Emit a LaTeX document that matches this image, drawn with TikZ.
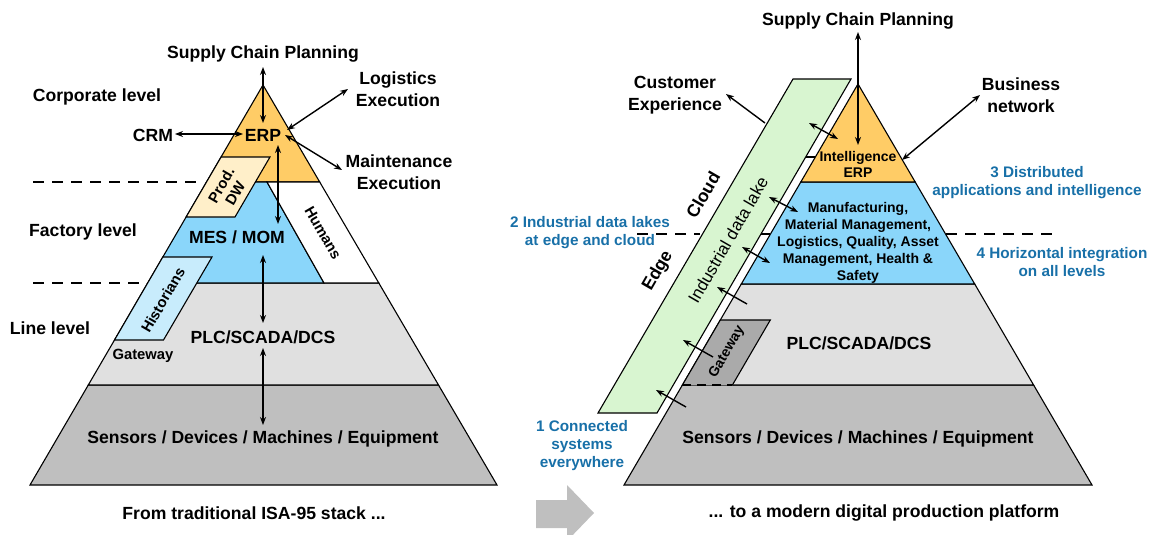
\documentclass[tikz,border=0pt]{standalone}
\usepackage{fontspec}
\setmainfont{Liberation Sans}
\usetikzlibrary{arrows.meta}
\definecolor{ora}{RGB}{255,204,102}
\definecolor{blu}{RGB}{138,214,250}
\definecolor{lgr}{RGB}{224,224,224}
\definecolor{dgr}{RGB}{191,191,191}
\definecolor{grn}{RGB}{216,245,208}
\definecolor{pdw}{RGB}{255,239,201}
\definecolor{his}{RGB}{200,236,252}
\definecolor{gwy}{RGB}{170,170,170}
\definecolor{txb}{RGB}{24,112,168}
\begin{document}
\begin{tikzpicture}[x=1pt,y=-1pt,
  lay/.style={draw=black,line width=1.1pt,line join=miter},
  lbl/.style={font=\fontsize{17.6}{22}\selectfont\bfseries,align=center,inner sep=0pt},
  sml/.style={font=\fontsize{14.8}{16}\selectfont\bfseries,align=center,inner sep=0pt},
  mfg/.style={font=\fontsize{14}{16.9}\selectfont\bfseries,align=center,inner sep=0pt},
  bl/.style={font=\fontsize{15.3}{18}\selectfont\bfseries,align=center,inner sep=0pt,text=txb},
  dl/.style={dash pattern=on 11pt off 8pt,line width=1.6pt},
  con/.style={line width=1.4pt,{Stealth[length=8pt,width=6pt]}-{Stealth[length=8pt,width=6pt]}},
  one/.style={line width=1.4pt,-{Stealth[length=8pt,width=6pt]}},
]
\useasboundingbox (0,0) rectangle (1151,535);

% ---------- left pyramid ----------
\draw[dl] (33,182) -- (204,182);
\draw[dl] (33,283) -- (146,283);
\draw[lay,fill=dgr] (88.3,385) -- (438.5,385) -- (497,485) -- (30,485) -- cycle;
\draw[lay,fill=lgr] (147.7,283) -- (378.8,283) -- (438.5,385) -- (88.3,385) -- cycle;
\draw[lay,fill=ora] (263,85) -- (319.7,182) -- (206.5,182) -- cycle;
\draw[lay,fill=blu] (206.5,182) -- (267,182) -- (324,283) -- (147.7,283) -- cycle;
\draw[lay,fill=white] (267,182) -- (319.7,182) -- (378.8,283) -- (324,283) -- cycle;
\draw[lay,fill=pdw] (221.1,157) -- (270,157) -- (235,217) -- (186.1,217) -- cycle;
\draw[lay,fill=his] (162.8,257) -- (212,257) -- (163.5,340) -- (114.5,340) -- cycle;

% ---------- right pyramid ----------
\draw[dl] (637,234) -- (700,234);
\draw[dl] (946,234) -- (1056,234);
\draw[lay,fill=dgr] (732.4,385) -- (1033.6,385) -- (1092,485) -- (624,485) -- (682.4,385);
\draw[lay,fill=lgr] (741.3,284) -- (974.7,284) -- (1033.6,385) -- (682.4,385) -- cycle;
\draw[lay,fill=blu] (800.8,182) -- (915.2,182) -- (974.7,284) -- (741.3,284) -- cycle;
\draw[lay,fill=ora] (858,84) -- (915.2,182) -- (800.8,182) -- cycle;
\fill[gwy] (720.3,320) -- (770.3,320) -- (732.4,385) -- (682.4,385) -- cycle;
\draw[lay] (682.4,385) -- (720.3,320) -- (770.3,320) -- (732.4,385);
\draw[line width=1.3pt,dash pattern=on 9pt off 6pt] (682.4,385) -- (732.4,385);
\draw[lay,fill=grn] (793,79) -- (851,79) -- (657,413) -- (598,413) -- cycle;
\draw[lay] (806,157) -- (815,157);
\draw[line width=1.6pt] (761,234) -- (770,234);

% ---------- left texts ----------
\node[lbl] (scp1) at (263,54) {Supply Chain Planning};
\node[lbl] (log1) at (398,89) {Logistics\\Execution};
\node[lbl] (corp) at (97,97) {Corporate level};
\node[lbl] (crm) at (153,135) {CRM};
\node[lbl] (erp1) at (263,135) {ERP};
\node[lbl] (mnt) at (399,172) {Maintenance\\Execution};
\node[lbl] (fact) at (83,232) {Factory level};
\node[lbl] (mes) at (237,237) {MES / MOM};
\node[lbl] (linel) at (50,328) {Line level};
\node[lbl] (plc1) at (263,337) {PLC/SCADA/DCS};
\node[sml] (gw1) at (143,356) {Gateway};
\node[lbl] (sen1) at (263,439) {Sensors / Devices / Machines / Equipment};
\node[lbl] (cap1) at (254,513) {From traditional ISA-95 stack ...};
\node[sml,rotate=60] (pdwt) at (228,189) {Prod.\\DW};
\node[sml,rotate=60] (hist) at (163,300) {Historians};
\node[sml,rotate=-60] (hum) at (323,233) {Humans};

% ---------- right texts ----------
\node[lbl] (scp2) at (858,21) {Supply Chain Planning};
\node[lbl] (cust) at (675,95) {Customer\\Experience};
\node[lbl] (bus) at (1021,95) {Business\\network};
\node[sml,font=\fontsize{14}{16}\selectfont\bfseries] (intl) at (858,164) {Intelligence\\ERP};
\node[mfg] (mfgt) at (858,243) {Manufacturing,\\Material Management,\\Logistics, Quality, Asset\\Management, Health \&\\Safety};
\node[bl] (d3) at (1037,183) {3 Distributed\\applications and intelligence};
\node[bl] (d2) at (590,233) {2 Industrial data lakes\\at edge and cloud};
\node[bl] (d4) at (1062,262) {4 Horizontal integration\\on all levels};
\node[bl] (d1) at (582,446) {1 Connected\\systems\\everywhere};
\node[lbl,rotate=60] (cloud) at (703,195) {Cloud};
\node[lbl,rotate=60] (edge) at (658,271) {Edge};
\node[font=\fontsize{17}{20}\selectfont,rotate=60,inner sep=0pt] (idl) at (728,240) {Industrial data lake};
\node[sml,font=\fontsize{14}{16}\selectfont\bfseries,rotate=60] (gw2) at (727,352) {Gateway};
\node[lbl] (plc2) at (859,343) {PLC/SCADA/DCS};
\node[lbl] (sen2) at (858,439) {Sensors / Devices / Machines / Equipment};
\node[lbl] (cap2) at (884,513) {... to a modern digital production platform};

% ---------- block arrow ----------
\fill[dgr] (536,500) -- (567,500) -- (567,485) -- (594,513) -- (572.8,535) -- (567,535) -- (567,528) -- (536,528) -- cycle;

% ---------- left connectors ----------
\coordinate (a1) at (263,67);   \coordinate (a2) at (263,123);
\coordinate (b1) at (175,134);  \coordinate (b2) at (243,134);
\coordinate (c1) at (287,130);  \coordinate (c2) at (348,89);
\coordinate (d1a) at (285,135); \coordinate (d2a) at (342,170);
\coordinate (e1) at (278,145);  \coordinate (e2) at (278,224);
\coordinate (f1) at (263,255);  \coordinate (f2) at (263,323);
\coordinate (g1) at (263,348);  \coordinate (g2) at (263,425);
\draw[con] (a1) -- (a2);
\draw[con] (b1) -- (b2);
\draw[con] (c1) -- (c2);
\draw[con] (d1a) -- (d2a);
\draw[con] (e1) -- (e2);
\draw[con] (f1) -- (f2);
\draw[con] (g1) -- (g2);

% ---------- right connectors ----------
\coordinate (h1) at (858,32);   \coordinate (h2) at (858,145);
\coordinate (i1) at (765,123);  \coordinate (i2) at (726,94);
\coordinate (j1) at (902,160);  \coordinate (j2) at (980,95);
\coordinate (k1) at (809,123);  \coordinate (k2) at (838,139);
\coordinate (l1) at (769,197);  \coordinate (l2) at (798,212);
\coordinate (m1) at (742,247);  \coordinate (m2) at (770,263);
\coordinate (n1) at (747,304);  \coordinate (n2) at (717,287);
\coordinate (o1) at (713,357);  \coordinate (o2) at (683,340);
\coordinate (p1) at (686,407);  \coordinate (p2) at (656,390);
\draw[con] (h1) -- (h2);
\draw[one] (i1) -- (i2);
\draw[con] (j1) -- (j2);
\draw[con] (k1) -- (k2);
\draw[con] (l1) -- (l2);
\draw[con] (m1) -- (m2);
\draw[one] (n1) -- (n2);
\draw[one] (o1) -- (o2);
\draw[one] (p1) -- (p2);
\end{tikzpicture}
\end{document}
